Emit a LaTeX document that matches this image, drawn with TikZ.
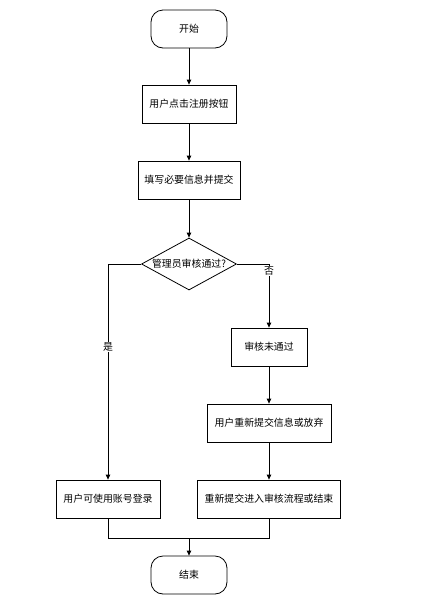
\documentclass[tikz,border=0pt]{standalone}
\usepackage{fontspec}
\newfontfamily\cjk{Noto Sans CJK SC}
\usetikzlibrary{shapes.geometric,arrows.meta}
\begin{document}
\begin{tikzpicture}[x=1pt,y=-1pt,
  every node/.style={font=\cjk\fontsize{9.9}{11}\selectfont, inner sep=0pt},
  term/.style={draw, line width=0.8pt, rounded corners=12pt, minimum width=76pt, minimum height=38pt},
  proc/.style={draw, line width=0.8pt, minimum height=38pt},
  dec/.style={draw, line width=0.8pt, diamond, aspect=1.8, minimum width=95pt, minimum height=52pt},
  arr/.style={draw, line width=0.8pt, -{Triangle[length=5pt,width=4.5pt]}},
  ln/.style={draw, line width=0.8pt},
  lab/.style={fill=white, inner sep=1pt}]
\useasboundingbox (0,0) rectangle (422,614);
\node[term] (start) at (189,29) {开始};
\node[proc, minimum width=94pt] (b1) at (189,104) {用户点击注册按钮};
\node[proc, minimum width=102pt] (b2) at (189,180) {填写必要信息并提交};
\node[dec] (d) at (189,264) {管理员审核通过?};
\node[proc, minimum width=76pt] (r1) at (269,347) {审核未通过};
\node[proc, minimum width=124pt] (r2) at (269,423) {用户重新提交信息或放弃};
\node[proc, minimum width=104pt] (l3) at (108,499) {用户可使用账号登录};
\node[proc, minimum width=143pt] (r3) at (269,499) {重新提交进入审核流程或结束};
\node[term] (end) at (189,575) {结束};
\coordinate (dl) at (108,264);
\coordinate (dr) at (269,264);
\coordinate (jl) at (108,538);
\coordinate (jr) at (269,538);
\coordinate (jm) at (189,538);
\path[arr] (start) -- (b1);
\path[arr] (b1) -- (b2);
\path[arr] (b2) -- (d);
\path[arr] (d.west) -- (dl) -- (l3.north);
\node[lab] (yes) at (108,347) {是};
\path[arr] (d.east) -- (dr) -- (r1.north);
\node[lab] (no) at (269,271) {否};
\path[arr] (r1) -- (r2);
\path[arr] (r2) -- (r3);
\path[ln] (l3.south) -- (jl) -- (jr) -- (r3.south);
\path[arr] (jm) -- (end.north);
\end{tikzpicture}
\end{document}
